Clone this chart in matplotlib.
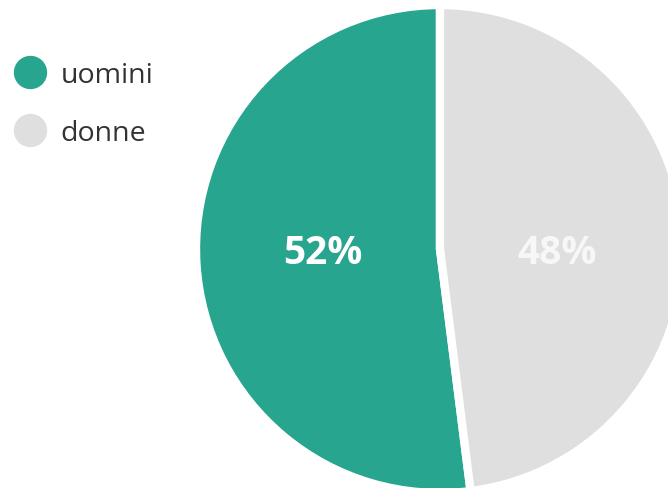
import matplotlib
matplotlib.use("Agg")
import matplotlib.pyplot as plt
from matplotlib.lines import Line2D

categories = ["uomini", "donne"]
values = [52, 48]
colors = ["#27a58f", "#dfdfdf"]

plt.rcParams["font.family"] = ["Open Sans", "DejaVu Sans"]

W, H = 668, 489
fig = plt.figure(figsize=(W / 100, H / 100), dpi=100)

# pie centred at (440, 250) px from top-left
cx, cy, r = 440, 250, 244
ax = fig.add_axes([(cx - r) / W, (H - cy - r) / H, 2 * r / W, 2 * r / H])

ax.pie(values, colors=colors, startangle=90, counterclock=True, radius=1,
       wedgeprops=dict(edgecolor="white", linewidth=6), frame=True)
ax.set_xlim(-1, 1)
ax.set_ylim(-1, 1)
ax.set_aspect("equal")
ax.axis("off")

label_colors = ["white", "#f7f7f7"]
for v, xpos, c in zip(values, [-0.48, 0.48], label_colors):
    ax.text(xpos, -0.016, f"{v}%", ha="center", va="center", fontsize=28,
            fontweight="bold", color=c)

handles = [Line2D([0], [0], marker="o", linestyle="none", markersize=23,
                  markerfacecolor=c, markeredgecolor=c) for c in colors]
fig.legend(handles, categories, loc="upper left",
           bbox_to_anchor=(-0.011, 1 - 42 / H), frameon=False, fontsize=20.5,
           handletextpad=0.49, labelspacing=1.05, borderpad=0.2,
           handlelength=1.2, labelcolor="#333333")

fig.savefig("out.png", dpi=100)
